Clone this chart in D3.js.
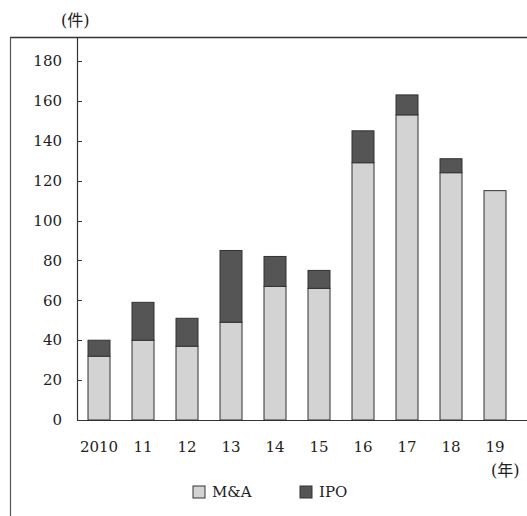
<!DOCTYPE html>
<html>
<head>
<meta charset="utf-8">
<script src="https://cdn.jsdelivr.net/npm/d3@7"></script>
<style>
  body { margin: 0; background: #fff; }
  text { font-family: "DejaVu Serif", "Liberation Serif", serif; fill: #222; }
  text.cjk { font-family: "DejaVu Serif", "Noto Sans CJK JP", serif; }
</style>
</head>
<body>
<svg width="527" height="516"></svg>
<script>
// data
const years = ['2010', '11', '12', '13', '14', '15', '16', '17', '18', '19'];
const mna = [32, 40, 37, 49, 67, 66, 129, 153, 124, 115];
const ipo = [8, 19, 14, 36, 15, 9, 16, 10, 7, 0];
const yTicks = [0, 20, 40, 60, 80, 100, 120, 140, 160, 180];
const seriesNames = ['M&A', 'IPO'];
const colors = ['#d3d3d3', '#555555'];

const svg = d3.select('svg');

// frame: top + left lines
svg.append('line').attr('x1', 10).attr('x2', 527).attr('y1', 37.5).attr('y2', 37.5)
  .attr('stroke', '#333').attr('stroke-width', 1.5);
svg.append('line').attr('x1', 10.5).attr('x2', 10.5).attr('y1', 37).attr('y2', 516)
  .attr('stroke', '#555').attr('stroke-width', 1.2);

const x = d3.scaleBand().domain(years).range([77, 517]).paddingInner(0.5).paddingOuter(0.25);
const y = d3.scaleLinear().domain([0, 180]).range([420, 61]);

// stacked data
const table = years.map((yr, i) => ({year: yr, 'M&A': mna[i], 'IPO': ipo[i]}));
const stack = d3.stack().keys(seriesNames)(table);

const g = svg.append('g');
g.selectAll('g.series').data(stack).enter().append('g')
  .attr('fill', (d, i) => colors[i])
  .selectAll('rect').data(d => d.filter(v => v[1] - v[0] > 0)).enter().append('rect')
  .attr('x', d => x(d.data.year))
  .attr('width', x.bandwidth())
  .attr('y', d => y(d[1]))
  .attr('height', d => y(d[0]) - y(d[1]))
  .attr('stroke', '#333')
  .attr('stroke-width', 1);

// y axis
svg.append('line').attr('x1', 77.5).attr('x2', 77.5).attr('y1', 37).attr('y2', 420)
  .attr('stroke', '#333').attr('stroke-width', 1.2);
const yAxis = svg.append('g');
yAxis.selectAll('line').data(yTicks).enter().append('line')
  .attr('x1', 77).attr('x2', 82)
  .attr('y1', d => Math.round(y(d)) + 0.5).attr('y2', d => Math.round(y(d)) + 0.5)
  .attr('stroke', '#333');
yAxis.selectAll('text').data(yTicks).enter().append('text')
  .attr('x', 62).attr('y', d => y(d)).attr('dy', '0.35em')
  .attr('text-anchor', 'end').attr('font-size', 15).text(d => d);

// baseline
svg.append('line').attr('x1', 77).attr('x2', 527).attr('y1', 420.5).attr('y2', 420.5)
  .attr('stroke', '#333').attr('stroke-width', 1.2);

// x labels
svg.append('g').selectAll('text').data(years).enter().append('text')
  .attr('x', d => x(d) + x.bandwidth() / 2).attr('y', 447).attr('dy', '0.35em')
  .attr('text-anchor', 'middle').attr('font-size', 15).text(d => d);

// unit labels
svg.append('text').attr('class', 'cjk').attr('x', 61).attr('y', 20).attr('dy', '0.35em')
  .attr('font-size', 16).text('(件)');
svg.append('text').attr('class', 'cjk').attr('x', 491).attr('y', 470).attr('dy', '0.35em')
  .attr('font-size', 16).text('(年)');

// legend
const legendX = [193, 300];
const legend = svg.append('g').selectAll('g').data(seriesNames).enter().append('g')
  .attr('transform', (d, i) => `translate(${legendX[i]},486)`);
legend.append('rect').attr('width', 12).attr('height', 12)
  .attr('fill', (d, i) => colors[i]).attr('stroke', '#333');
legend.append('text').attr('x', 19).attr('y', 6).attr('dy', '0.35em')
  .attr('font-size', 15).text(d => d);
</script>
</body>
</html>
